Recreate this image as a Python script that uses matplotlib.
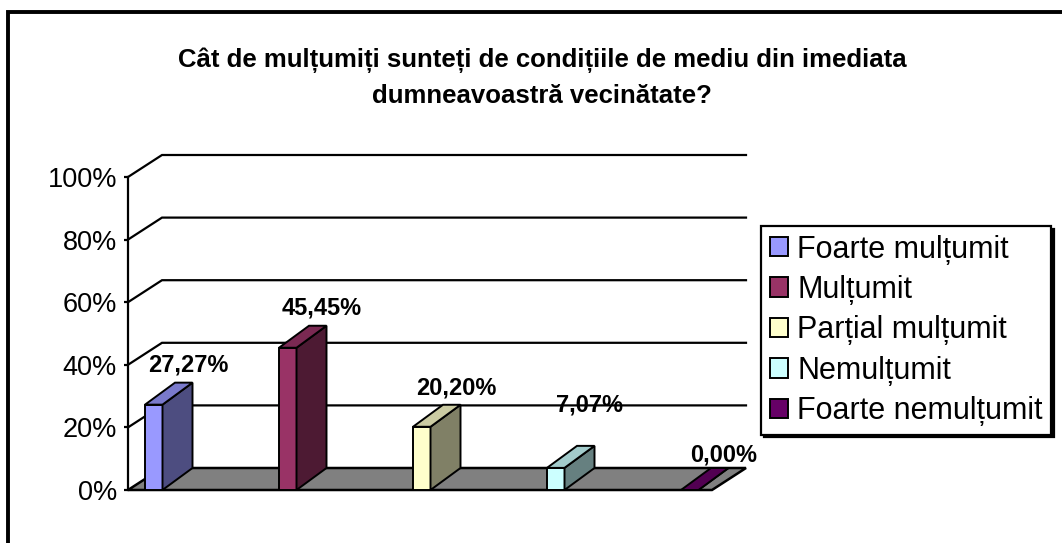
import matplotlib
matplotlib.use('Agg')
import matplotlib.pyplot as plt
from matplotlib.patches import Polygon, Patch, Rectangle

plt.rcParams['font.family'] = ['Liberation Sans', 'DejaVu Sans']

# date
categorii = ['Foarte mulțumit', 'Mulțumit', 'Parțial mulțumit', 'Nemulțumit', 'Foarte nemulțumit']
valori = [27.27, 45.45, 20.20, 7.07, 0.00]
etichete = ['27,27%', '45,45%', '20,20%', '7,07%', '0,00%']
ticks_y = [0, 20, 40, 60, 80, 100]
ticks_lbl = ['0%', '20%', '40%', '60%', '80%', '100%']
titlu = ['Cât de mulțumiți sunteți de condițiile de mediu din imediata',
         'dumneavoastră vecinătate?']

# culori: fata, lateral, sus
c_fata = ['#9999FF', '#993366', '#FFFFCC', '#CCFFFF', '#660066']
c_lat = ['#4D4D80', '#4D1A33', '#808066', '#668080', '#330033']
c_sus = ['#7A7ACC', '#7A2952', '#CCCCA3', '#A3CCCC', '#520052']
# cat de sus stau etichetele peste bara (in %)
ridicare = [12.6, 12.7, 12.4, 20.1, 11.2]

W, H = 1062, 543
fig = plt.figure(figsize=(W / 100, H / 100), dpi=100)

# chenar exterior (iese din imagine la dreapta si jos)
fig.patches.append(Rectangle((8 / W, -0.1), 1.2, 1 - 12 / H + 0.1, transform=fig.transFigure,
                             fill=False, edgecolor='black', linewidth=2.8))

ax = fig.add_axes([128 / W, 53 / H, 584 / W, 313 / H])
xmin = -17 / 134
xmax = xmin + 584 / 134
ax.set_xlim(xmin, xmax)
ax.set_ylim(0, 100)
ax.patch.set_visible(False)
for s in ['top', 'right', 'bottom']:
    ax.spines[s].set_visible(False)
ax.spines['left'].set_linewidth(1.6)
ax.set_xticks([])
ax.set_yticks(ticks_y)
ax.set_yticklabels(ticks_lbl, fontsize=19.5)
ax.tick_params(axis='y', direction='out', length=3, width=1.6, pad=5)

dxw = 34 / 134   # adancime perete
dy = 22 / 3.13   # adancime in %
dxb = 30 / 134   # adancime bara
lat = 17.5 / 134  # latime bara

# podea
ax.add_patch(Polygon([(xmin, 0), (xmax, 0), (xmax + dxw, dy), (xmin + dxw, dy)],
                     closed=True, facecolor='#808080', edgecolor='black', linewidth=1.8,
                     clip_on=False, zorder=1))

# liniile de grila pe perete
for v in ticks_y[1:]:
    ax.plot([xmin, xmin + dxw, xmax + dxw], [v, v + dy, v + dy], color='black',
            linewidth=1.6, clip_on=False, zorder=2, solid_joinstyle='miter')

# barele 3D
for i, v in enumerate(valori):
    x0 = i
    x1 = i + lat
    fata = [(x0, 0), (x1, 0), (x1, v), (x0, v)]
    lateral = [(x1, 0), (x1 + dxb, dy), (x1 + dxb, v + dy), (x1, v)]
    sus = [(x0, v), (x1, v), (x1 + dxb, v + dy), (x0 + dxb, v + dy)]
    for pts, c in [(fata, c_fata[i]), (lateral, c_lat[i]), (sus, c_sus[i])]:
        ax.add_patch(Polygon(pts, closed=True, facecolor=c, edgecolor='black',
                             linewidth=1.4, clip_on=False, zorder=3))
    ax.text(i + 0.32, v + ridicare[i], etichete[i], ha='center', va='center',
            fontsize=17, fontweight='bold', zorder=4, clip_on=False)

# titlu
fig.text(542 / W, 1 - 60 / H, titlu[0], ha='center', va='center', fontsize=18.5, fontweight='bold')
fig.text(542 / W, 1 - 96 / H, titlu[1], ha='center', va='center', fontsize=18.5, fontweight='bold')

# legenda
handles = [Patch(facecolor=c_fata[i], edgecolor='black', linewidth=1.4) for i in range(len(categorii))]
leg = fig.legend(handles, categorii, loc='upper left', bbox_to_anchor=(761 / W, 1 - 226 / H),
                 borderaxespad=0, fontsize=22, handlelength=0.6, handleheight=0.6,
                 handletextpad=0.3, labelspacing=0.34, borderpad=0.28,
                 fancybox=False, framealpha=1, edgecolor='black',
                 shadow={'color': 'black', 'alpha': 1})
leg.get_frame().set_linewidth(1.6)

fig.savefig('out.png', dpi=100)
